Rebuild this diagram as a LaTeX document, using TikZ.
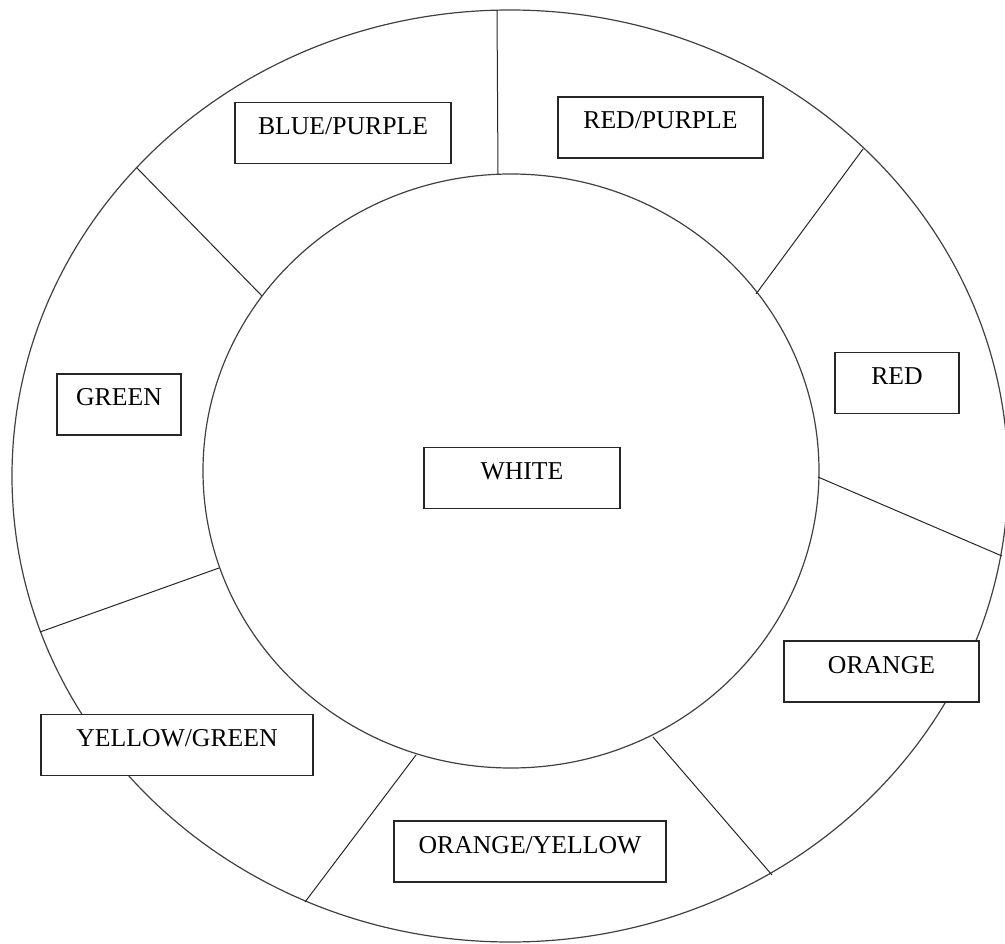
\documentclass[tikz,border=0pt]{standalone}
\usepackage{fontspec}
\setmainfont{Liberation Serif}
\usepackage{tikz}
\usetikzlibrary{positioning}

\begin{document}
\begin{tikzpicture}[x=1pt, y=-1pt,
    ring/.style={draw=black!75, line width=1.2pt},
    spoke/.style={draw=black!85, line width=1pt},
    label/.style={draw=black!85, line width=1.4pt, fill=white, inner sep=0pt,
                  text height=32pt, text depth=29pt,
                  font=\fontsize{25.7}{30}\selectfont}]
            \useasboundingbox (0,0) rectangle (1005,944);
            % Draw rings
            \draw[ring] (510,476) ellipse (498 and 466);
            \draw[ring] (511,471) ellipse (308 and 297);
            % spoke ends
            \coordinate (i1) at (498,174);  \coordinate (o1) at (497,10);
            \coordinate (i2) at (756,294);  \coordinate (o2) at (863,149);
            \coordinate (i3) at (818,477);  \coordinate (o3) at (1002,556);
            \coordinate (i4) at (653,737);  \coordinate (o4) at (772,875);
            \coordinate (i5) at (416,755);  \coordinate (o5) at (305,902);
            \coordinate (i6) at (219,568);  \coordinate (o6) at (40,632);
            \coordinate (i7) at (262,296);  \coordinate (o7) at (137,168);
            % draw spokes
            \foreach \k in {1,...,7}
                \draw[spoke] (i\k) -- (o\k);
            % colour labels
            \node[label, minimum width=216pt] (bluepurple) at (343,133) {BLUE/PURPLE};
            \node[label, minimum width=205pt] (redpurple) at (660.5,127.5) {RED/PURPLE};
            \node[label, minimum width=124pt] (red) at (897,383) {RED};
            \node[label, minimum width=124pt] (green) at (119,404.5) {GREEN};
            \node[label, minimum width=196pt] (white) at (522,478) {WHITE};
            \node[label, minimum width=195pt] (orange) at (881.5,671.5) {ORANGE};
            \node[label, minimum width=272pt] (yellowgreen) at (177,745) {YELLOW/GREEN};
            \node[label, minimum width=272pt] (orangeyellow) at (530,851.5) {ORANGE/YELLOW};
          \end{tikzpicture}
\end{document}
